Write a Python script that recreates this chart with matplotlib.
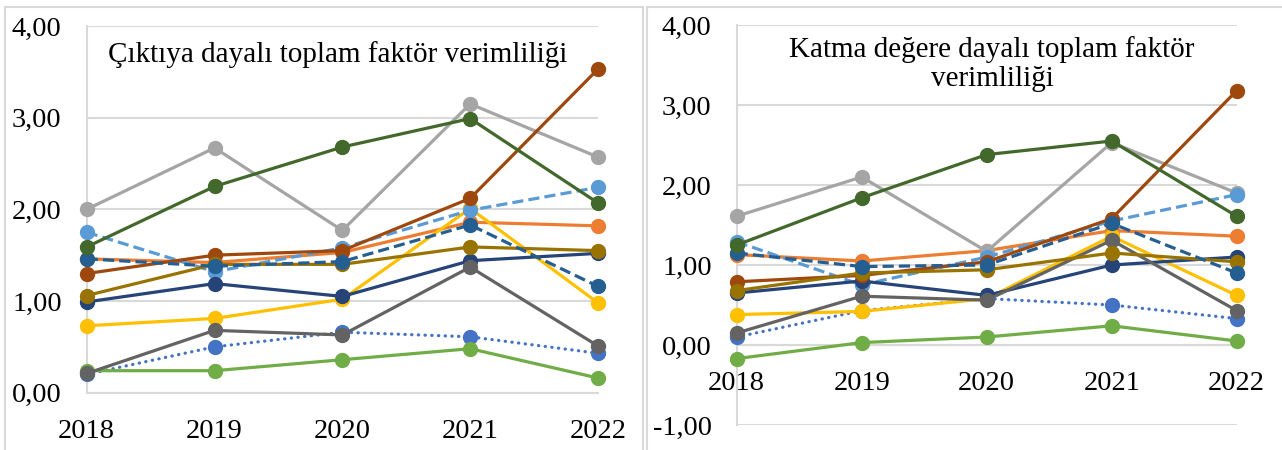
import matplotlib
matplotlib.use("Agg")
import matplotlib.pyplot as plt
from matplotlib.ticker import FuncFormatter
from matplotlib.patches import Rectangle

plt.rcParams['font.family'] = ['Liberation Serif', 'DejaVu Serif']

years = [2018, 2019, 2020, 2021, 2022]

# series order follows the Excel default palette (series 1..12)
colors = ['#4472C4', '#ED7D31', '#A5A5A5', '#FFC000', '#5B9BD5', '#70AD47',
          '#264478', '#9E480E', '#636363', '#997300', '#255E91', '#43682B']
styles = ['dot', 'solid', 'solid', 'solid', 'dash', 'solid',
          'solid', 'solid', 'solid', 'solid', 'dash', 'solid']

# Çıktıya dayalı TFV
output_tfp = [
    [0.20, 0.50, 0.66, 0.61, 0.43],
    [1.46, 1.42, 1.53, 1.86, 1.82],
    [2.00, 2.67, 1.77, 3.15, 2.57],
    [0.73, 0.81, 1.02, 2.01, 0.98],
    [1.75, 1.32, 1.58, 1.99, 2.24],
    [0.24, 0.24, 0.36, 0.48, 0.16],
    [0.99, 1.19, 1.05, 1.44, 1.52],
    [1.30, 1.50, 1.55, 2.12, 3.53],
    [0.21, 0.68, 0.63, 1.37, 0.51],
    [1.06, 1.40, 1.40, 1.59, 1.55],
    [1.46, 1.38, 1.43, 1.83, 1.16],
    [1.59, 2.25, 2.68, 2.99, 2.07],
]

# Katma değere dayalı TFV
value_added_tfp = [
    [0.10, 0.43, 0.58, 0.50, 0.33],
    [1.13, 1.05, 1.18, 1.43, 1.36],
    [1.61, 2.10, 1.17, 2.53, 1.90],
    [0.38, 0.42, 0.58, 1.36, 0.62],
    [1.29, 0.75, 1.10, 1.55, 1.88],
    [-0.17, 0.03, 0.10, 0.24, 0.05],
    [0.65, 0.80, 0.62, 1.00, 1.10],
    [0.79, 0.87, 1.04, 1.58, 3.18],
    [0.15, 0.61, 0.56, 1.31, 0.43],
    [0.68, 0.90, 0.94, 1.15, 1.04],
    [1.15, 0.98, 1.00, 1.52, 0.90],
    [1.25, 1.84, 2.38, 2.55, 1.61],
]

linestyles = {'solid': '-', 'dash': (0, (3.5, 1.6)), 'dot': (0, (0.1, 2.0))}
grid_c = '#D9D9D9'
comma = FuncFormatter(lambda v, p: f"{v:.2f}".replace('.', ','))


def draw_panel(ax, data, ymin, title, title_xy):
    for vals, c, s in zip(data, colors, styles):
        ax.plot(years, vals, color=c, lw=2.3, ls=linestyles[s],
                dash_capstyle='round' if s == 'dot' else 'butt',
                marker='o', ms=10, mec=c, mfc=c, clip_on=False, zorder=3)
    ax.set_xlim(2018, 2022)
    ax.set_ylim(ymin, 4)
    ax.set_yticks(range(ymin, 5))
    ax.yaxis.set_major_formatter(comma)
    ax.set_xticks(years)
    ax.grid(axis='y', color=grid_c, lw=1.5, zorder=0)
    for side in ['top', 'right']:
        ax.spines[side].set_visible(False)
    ax.spines['left'].set_color(grid_c)
    ax.spines['left'].set_linewidth(1.5)
    ax.spines['bottom'].set_color(grid_c)
    ax.spines['bottom'].set_linewidth(1.5)
    ax.spines['bottom'].set_position(('data', 0))
    ax.tick_params(axis='y', length=0, pad=18, labelsize=20.5)
    ax.tick_params(axis='x', length=0, pad=19, labelsize=20.5)
    ax.set_facecolor('none')
    ax.text(title_xy[0], title_xy[1], title, transform=fig.transFigure,
            ha='center', va='center', fontsize=21, linespacing=1.15)


fig = plt.figure(figsize=(12.82, 4.5), dpi=100)

# chart area borders
fig.patches.append(Rectangle((5 / 1282, -0.1), 638 / 1282, 1.1 - 7 / 450,
                             transform=fig.transFigure, fill=False,
                             ec=grid_c, lw=1.5))
fig.patches.append(Rectangle((647 / 1282, -0.1), 700 / 1282, 1.1 - 7 / 450,
                             transform=fig.transFigure, fill=False,
                             ec=grid_c, lw=1.5))

ax1 = fig.add_axes([86.7 / 1282, 57.3 / 450, 511.3 / 1282, 366.7 / 450])
draw_panel(ax1, output_tfp, 0, "Çıktıya dayalı toplam faktör verimliliği",
           (338 / 1282, 1 - 55 / 450))

ax2 = fig.add_axes([736.7 / 1282, 25 / 450, 500 / 1282, 400 / 450])
draw_panel(ax2, value_added_tfp, -1,
           "Katma değere dayalı toplam faktör\nverimliliği",
           (992 / 1282, 1 - 64 / 450))

fig.savefig("out.png", dpi=100)
